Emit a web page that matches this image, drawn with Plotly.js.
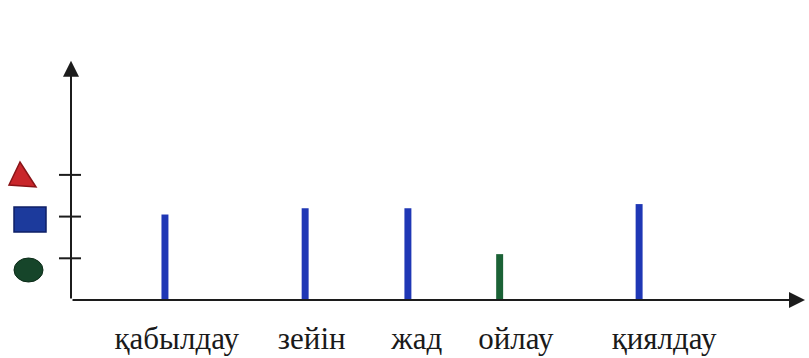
<!DOCTYPE html>
<html>
<head>
<meta charset="utf-8">
<script src="https://cdn.plot.ly/plotly-3.0.1.min.js"></script>
<style>html,body{margin:0;padding:0;background:#fff;}#chart{width:809px;height:358px;}</style>
</head>
<body>
<div id="chart"></div>
<script>
// ---- data ----
const categories = ["қабылдау", "зейін", "жад", "ойлау", "қиялдау"];
const values = [2.05, 2.2, 2.2, 1.1, 2.3];
const levelColors = ["blue", "blue", "blue", "green", "blue"];
const levelTicks = [1, 2, 3];

// ---- layout config (positions / styles) ----
const barX = [12.8, 31.9, 45.9, 58.4, 77.4];
const labelX = [14.4, 32.8, 47.1, 60.6, 80.8];
const colorMap = {blue: "#1f37b5", green: "#1b6236"};
const PW = 734, PH = 240;           // plot area size in px
const px = v => v / PW, py = v => v / PH;
const YMAX = 5.755;
const axisColor = "#1c1c1c";
const serif = "'Liberation Serif', 'Times New Roman', Times, serif";

const traces = [
  {
    type: "bar",
    x: barX,
    y: values,
    width: 0.95,
    marker: {color: levelColors.map(c => colorMap[c]), line: {width: 0}},
    hoverinfo: "skip"
  }
];

const shapes = levelTicks.map(v => ({
  type: "line", xref: "paper", yref: "y",
  x0: px(-12), x1: px(10), y0: v, y1: v,
  line: {color: axisColor, width: 2}
}));

// level key symbols (left of the y axis), in paper coords relative to plot origin (71,300)
shapes.push({
  type: "path", xref: "paper", yref: "paper",
  path: `M ${px(-62)} ${py(115)} L ${px(-51)} ${py(138)} L ${px(-35)} ${py(113)} Z`,
  fillcolor: "#c9262b", line: {color: "#8a1418", width: 1.5}
});
shapes.push({
  type: "rect", xref: "paper", yref: "paper",
  x0: px(-57), x1: px(-25), y0: py(68), y1: py(93),
  fillcolor: "#1c3a9c", line: {color: "#0e1f66", width: 1.5}
});
shapes.push({
  type: "circle", xref: "paper", yref: "paper",
  x0: px(-57), x1: px(-28), y0: py(18), y1: py(42),
  fillcolor: "#16452a", line: {color: "#0b2a17", width: 1}
});

const annotations = [
  {x: 0, y: YMAX - 0.02, ax: 0, ay: 0, xref: "x", yref: "y", axref: "x", ayref: "y",
   text: "", showarrow: true, arrowhead: 2, arrowsize: 1.6, arrowwidth: 2, arrowcolor: axisColor, standoff: 0},
  {x: 100, y: 0, ax: 0, ay: 0, xref: "x", yref: "y", axref: "x", ayref: "y",
   text: "", showarrow: true, arrowhead: 2, arrowsize: 1.6, arrowwidth: 2, arrowcolor: axisColor, standoff: 0}
];

const layout = {
  width: 809, height: 358,
  margin: {l: 71, r: 4, t: 60, b: 58},
  paper_bgcolor: "#ffffff",
  plot_bgcolor: "#ffffff",
  showlegend: false,
  font: {family: serif, color: "#1a1a1a"},
  xaxis: {
    range: [0, 100], showgrid: false, zeroline: false, showline: false,
    tickvals: labelX, ticktext: categories, ticks: "",
    tickfont: {family: serif, size: 31, color: "#1a1a1a"},
    ticklabelstandoff: 17, fixedrange: true
  },
  yaxis: {
    range: [0, YMAX], showgrid: false, zeroline: false, showline: false,
    showticklabels: false, ticks: "", fixedrange: true
  },
  shapes: shapes,
  annotations: annotations
};

Plotly.newPlot("chart", traces, layout, {displayModeBar: false, staticPlot: true});
</script>
</body>
</html>
